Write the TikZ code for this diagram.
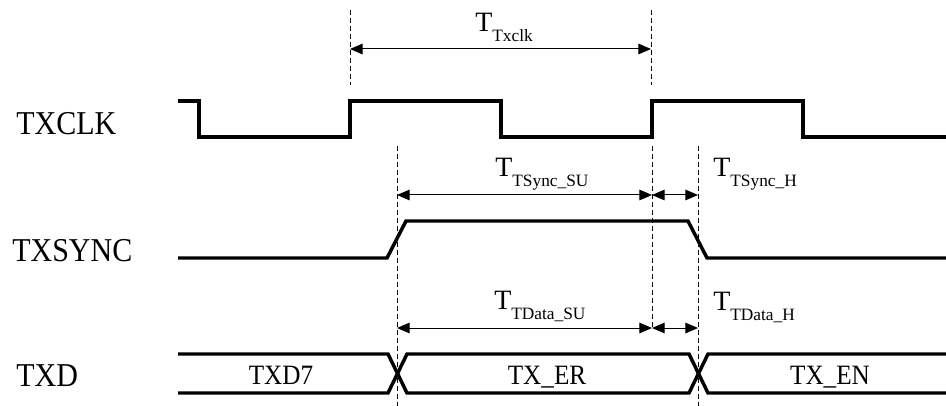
\documentclass[tikz,border=0pt]{standalone}
\usepackage{fontspec}
\setmainfont{Liberation Serif}
\newfontfamily\sigfont[FakeStretch=0.9]{Liberation Serif}
\usetikzlibrary{arrows.meta, positioning}

% T with a lowered subscript name
\newcommand{\tparam}[1]{T\raisebox{-7.5pt}{\fontsize{13}{13}\selectfont #1}}

\begin{document}
\begin{tikzpicture}[
    x=0.75pt, y=-0.75pt, % one unit = one pixel, y downwards
    >={Triangle[length=9.5pt, width=8pt]}, % Filled arrow tips
    wave/.style={line width=2.6pt, line join=miter}, % Style for the signal traces
    guide/.style={line width=0.75pt, dash pattern=on 4pt off 2pt}, % Style for the timing guides
    dim/.style={<->, line width=0.75pt}, % Style for the timing arrows
    signame/.style={font=\sigfont\fontsize{25}{25}\selectfont, anchor=base west, inner sep=0pt}, % Signal names
    busval/.style={font=\sigfont\fontsize{21}{21}\selectfont, anchor=base, inner sep=0pt}, % Bus values
    tlabel/.style={font=\fontsize{21}{21}\selectfont, anchor=base west, inner sep=0pt} % Timing labels
]
    \useasboundingbox (0,0) rectangle (946,406);

    % --- Signal names ---
    \node[signame] (clkname) at (16,135) {TXCLK};
    \node[signame] (syncname) at (12,262) {TXSYNC};
    \node[signame] (dataname) at (16,386) {TXD};

    % --- TXCLK ---
    \draw[wave] (178,101) -- (199,101) -- (199,137) -- (350,137) -- (350,101)
        -- (501,101) -- (501,137) -- (652,137) -- (652,101) -- (803,101)
        -- (803,137) -- (946,137);

    % --- TXSYNC ---
    \draw[wave] (178,258) -- (387,258) -- (406,221) -- (688,221) -- (707,258) -- (946,258);

    % --- TXD ---
    \draw[wave] (178,354) -- (388,354) -- (407,393) -- (689,393) -- (708,354) -- (946,354);
    \draw[wave] (178,393) -- (388,393) -- (407,354) -- (689,354) -- (708,393) -- (946,393);
    \node[busval] (d7) at (281,384) {TXD7};
    \node[busval] (er) at (547,384) {TX\_ER};
    \node[busval] (en) at (830,384) {TX\_EN};

    % Key points of the guides
    \coordinate (clkA) at (350,49);
    \coordinate (clkB) at (651,49);
    \coordinate (syncA) at (397,195);
    \coordinate (syncB) at (652,195);
    \coordinate (syncC) at (698,195);
    \coordinate (dataA) at (397,328);
    \coordinate (dataB) at (652,328);
    \coordinate (dataC) at (698,328);

    % --- Dashed guides ---
    \draw[guide] (350,10) -- (350,85);
    \draw[guide] (651,10) -- (651,85);
    \draw[guide] (652,146) -- (652,330);
    \draw[guide] (397,146) -- (397,406);
    \draw[guide] (698,146) -- (698,406);

    % --- Timing arrows ---
    \draw[dim] (clkA) -- (clkB);
    \draw[dim] (syncA) -- (syncB);
    \draw[dim] (syncB) -- (syncC);
    \draw[dim] (dataA) -- (dataB);
    \draw[dim] (dataB) -- (dataC);

    % --- Timing labels ---
    \node[tlabel] (tclk) at (475,32) {\tparam{Txclk}};
    \node[tlabel] (tsyncsu) at (495,176) {\tparam{TSync\_SU}};
    \node[tlabel] (tsynch) at (713,177) {\tparam{TSync\_H}};
    \node[tlabel] (tdatasu) at (494,309) {\tparam{TData\_SU}};
    \node[tlabel] (tdatah) at (713,310) {\tparam{TData\_H}};

\end{tikzpicture}
\end{document}
